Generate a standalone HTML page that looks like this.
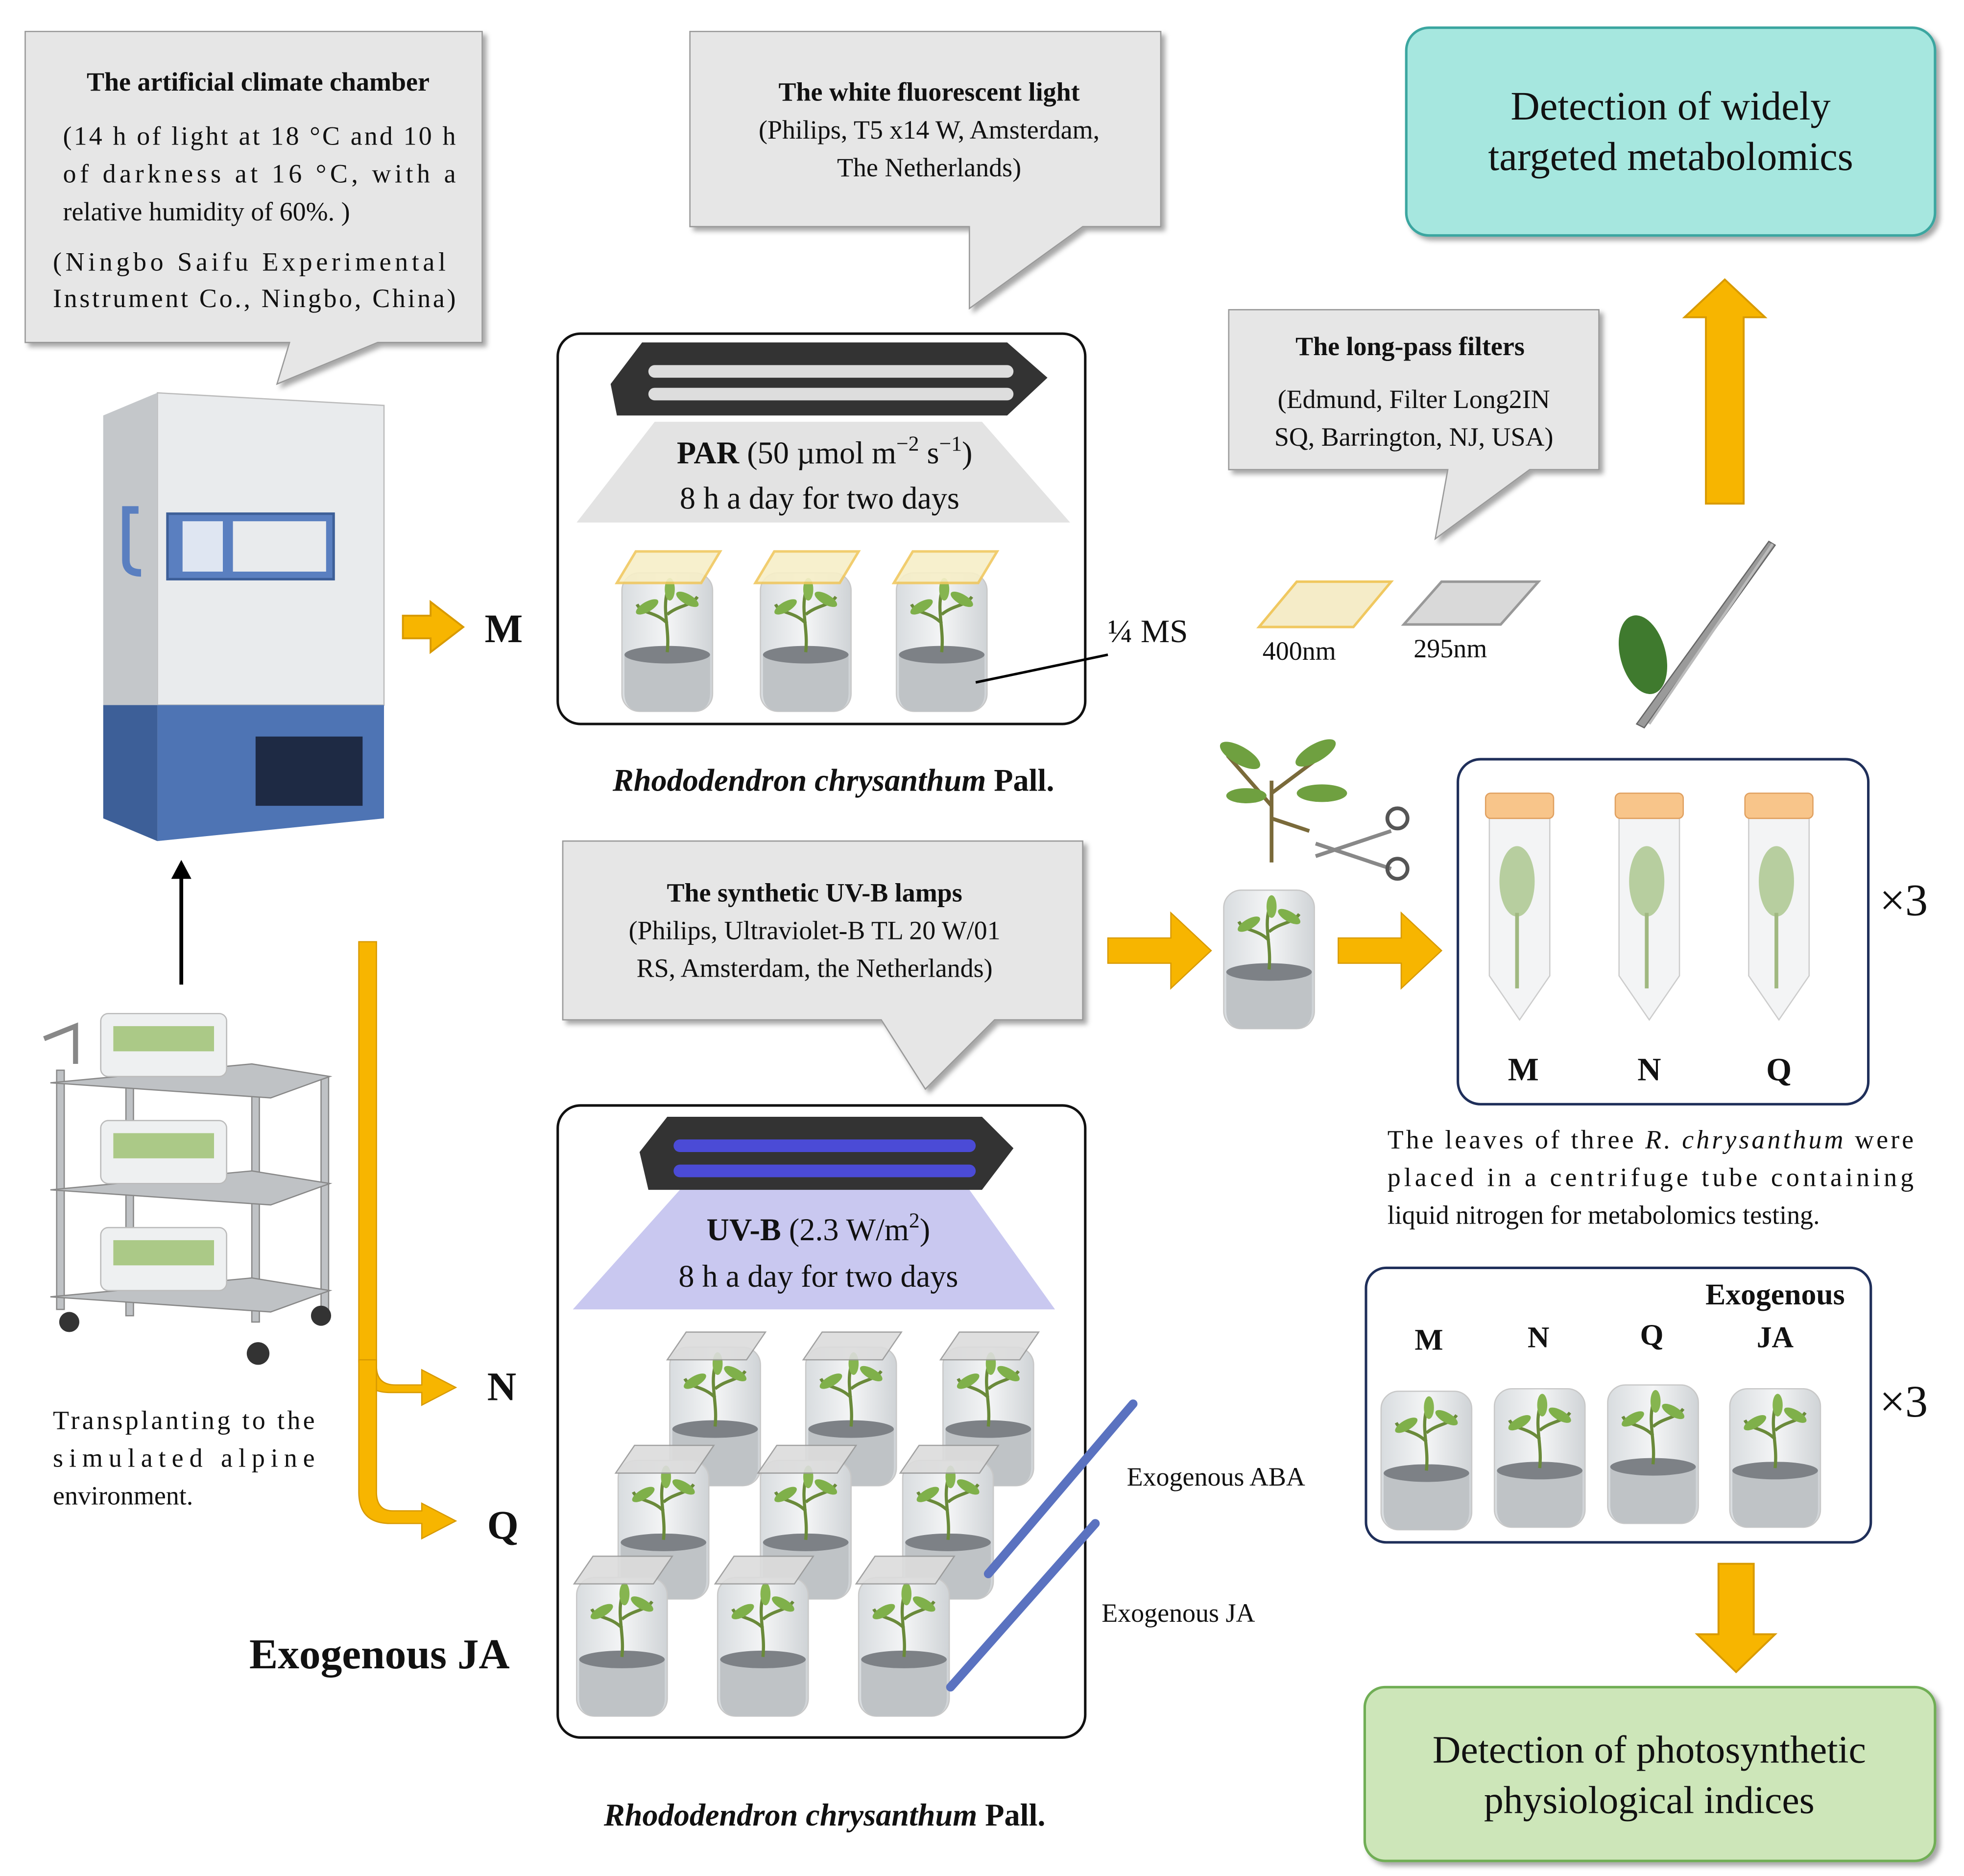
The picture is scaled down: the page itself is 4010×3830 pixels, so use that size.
<!DOCTYPE html>
<html><head><meta charset="utf-8"><style>
html,body{margin:0;padding:0;background:#fff}
svg{display:block}
text{font-family:"Liberation Serif","DejaVu Serif",serif;fill:#111}
</style></head><body>
<svg width="4010" height="3830" viewBox="0 0 1560 1490" xmlns="http://www.w3.org/2000/svg">
<defs>
<filter id="sh" x="-10%" y="-10%" width="130%" height="130%"><feDropShadow dx="3" dy="3" stdDeviation="2" flood-color="#000" flood-opacity="0.35"/></filter>
<linearGradient id="jar" x1="0" x2="1"><stop offset="0" stop-color="#d8dcdf"/><stop offset="0.5" stop-color="#f4f5f6"/><stop offset="1" stop-color="#cfd3d6"/></linearGradient>
<g id="jarg">
<rect x="-36" y="-55" width="72" height="110" rx="14" fill="url(#jar)" stroke="#c8c8c8"/>
<path d="M-34 10 Q0 4 34 10 L34 40 Q34 55 20 55 L-20 55 Q-34 55 -34 40Z" fill="#bfc3c6"/>
<ellipse cx="0" cy="10" rx="34" ry="7" fill="#7d8186"/>
<path d="M0 8 C2 -10 -4 -25 0 -40 M0 -15 C-10 -25 -20 -22 -24 -30 M0 -22 C10 -30 18 -28 24 -36" stroke="#6a8a3a" stroke-width="2.5" fill="none"/>
<ellipse cx="-16" cy="-28" rx="10" ry="4" fill="#7fb04a" transform="rotate(-30 -16 -28)"/>
<ellipse cx="16" cy="-34" rx="10" ry="4" fill="#7fb04a" transform="rotate(30 16 -34)"/>
<ellipse cx="2" cy="-42" rx="4" ry="9" fill="#86b550"/>
</g>
<g id="tube">
<path d="M-24 -70 L24 -70 L24 60 L0 95 L-24 60Z" fill="#f3f4f5" stroke="#ccc"/>
<rect x="-27" y="-85" width="54" height="20" rx="4" fill="#f8c58a" stroke="#e0a060"/>
<ellipse cx="-2" cy="-15" rx="14" ry="28" fill="#a8c48a" opacity="0.8"/>
<line x1="-2" y1="10" x2="-2" y2="70" stroke="#a0b880" stroke-width="3"/>
</g>
<g id="arr">
<path d="M0 -9 L22 -9 L22 -20 L48 0 L22 20 L22 9 L0 9Z" fill="#f7b500" stroke="#d89a00" stroke-width="1.5"/>
</g>
</defs>

<!-- Callout 1 -->
<path d="M20 25 L383 25 L383 272 L300 272 L220 305 L230 272 L20 272Z" fill="#e6e6e6" stroke="#999" filter="url(#sh)"/>
<text x="205" y="72" font-size="21" font-weight="bold" text-anchor="middle">The artificial climate chamber</text>
<text x="50" y="115" font-size="21" textLength="312" lengthAdjust="spacing">(14 h of light at 18 °C and 10 h</text>
<text x="50" y="145" font-size="21" textLength="312" lengthAdjust="spacing">of darkness at 16 °C, with a</text>
<text x="50" y="175" font-size="21">relative humidity of 60%. )</text>
<text x="42" y="215" font-size="21" textLength="312" lengthAdjust="spacing">(Ningbo Saifu Experimental</text>
<text x="42" y="244" font-size="21" textLength="320" lengthAdjust="spacing">Instrument Co., Ningbo, China)</text>

<!-- Callout 2 -->
<path d="M548 25 L922 25 L922 180 L860 180 L770 245 L770 180 L548 180Z" fill="#e6e6e6" stroke="#999" filter="url(#sh)"/>
<text x="738" y="80" font-size="21" font-weight="bold" text-anchor="middle">The white fluorescent light</text>
<text x="738" y="110" font-size="21" text-anchor="middle">(Philips, T5 x14 W, Amsterdam,</text>
<text x="738" y="140" font-size="21" text-anchor="middle">The Netherlands)</text>

<!-- Teal box -->
<rect x="1117" y="22" width="420" height="165" rx="18" fill="#a6e7df" stroke="#3aa6a0" stroke-width="2" filter="url(#sh)"/>
<text x="1327" y="95" font-size="32" text-anchor="middle">Detection of widely</text>
<text x="1327" y="135" font-size="32" text-anchor="middle">targeted metabolomics</text>

<!-- up arrow -->
<path d="M1355 400 L1355 252 L1338 252 L1370 222 L1402 252 L1385 252 L1385 400Z" fill="#f7b500" stroke="#d89a00" stroke-width="1.5"/>

<!-- long-pass callout -->
<path d="M976 246 L1270 246 L1270 373 L1215 373 L1140 428 L1150 373 L976 373Z" fill="#e6e6e6" stroke="#999" filter="url(#sh)"/>
<text x="1120" y="282" font-size="21" font-weight="bold" text-anchor="middle">The long-pass filters</text>
<text x="1123" y="324" font-size="21" text-anchor="middle">(Edmund, Filter Long2IN</text>
<text x="1123" y="354" font-size="21" text-anchor="middle">SQ, Barrington, NJ, USA)</text>

<!-- filters -->
<path d="M1000 498 L1030 462 L1105 462 L1075 498Z" fill="#f5ecc8" stroke="#f0c860" stroke-width="2"/>
<path d="M1115 496 L1145 462 L1222 462 L1192 496Z" fill="#d9d9d9" stroke="#999" stroke-width="2"/>
<text x="1032" y="524" font-size="21" text-anchor="middle">400nm</text>
<text x="1152" y="522" font-size="21" text-anchor="middle">295nm</text>

<!-- tweezers & leaf -->
<path d="M1300 575 L1405 430 L1410 433 L1306 578Z" fill="#9a9a9a" stroke="#666"/>
<path d="M1310 575 L1408 432" stroke="#bbb" stroke-width="2"/>
<ellipse cx="1305" cy="520" rx="18" ry="32" fill="#3f7a2e" transform="rotate(-15 1305 520)"/>

<!-- chamber -->
<path d="M82 330 L125 312 L305 322 L305 650 L125 668 L82 650Z" fill="#d5d8db"/>
<path d="M125 312 L305 322 L305 560 L125 560Z" fill="#e9ebed" stroke="#bbb"/>
<path d="M82 330 L125 312 L125 668 L82 650Z" fill="#c4c7ca"/>
<path d="M125 560 L305 560 L305 650 L125 668Z" fill="#4e74b4"/>
<path d="M82 560 L125 560 L125 668 L82 650Z" fill="#3d5f98"/>
<rect x="133" y="408" width="132" height="52" fill="#5a7fc0" stroke="#3d5f98" stroke-width="2"/>
<rect x="185" y="414" width="74" height="40" fill="#e9ebed"/>
<rect x="145" y="414" width="32" height="40" fill="#dfe6f2"/>
<path d="M110 405 L100 405 L100 445 Q100 455 112 455" stroke="#5a7fc0" stroke-width="6" fill="none"/>
<rect x="203" y="585" width="85" height="55" fill="#1e2a44"/>

<!-- up black arrow -->
<line x1="144" y1="782" x2="144" y2="695" stroke="#000" stroke-width="3"/>
<path d="M136 698 L144 683 L152 698Z" fill="#000"/>

<!-- cart -->
<g stroke="#888" fill="#bfc2c5">
<rect x="45" y="850" width="6" height="190"/><rect x="255" y="855" width="6" height="190"/>
<rect x="200" y="860" width="6" height="190"/><rect x="100" y="855" width="6" height="190"/>
<path d="M40 860 L200 845 L262 855 L215 872 Z"/>
<path d="M40 945 L200 930 L262 940 L215 957 Z"/>
<path d="M40 1030 L200 1015 L262 1025 L215 1042 Z"/>
<path d="M35 825 L60 815 L60 845" fill="none" stroke-width="4"/>
</g>
<circle cx="55" cy="1050" r="8" fill="#333"/><circle cx="205" cy="1075" r="9" fill="#333"/><circle cx="255" cy="1045" r="8" fill="#333"/>
<g fill="#eef0f1" stroke="#bbb">
<rect x="80" y="805" width="100" height="50" rx="6"/><rect x="80" y="890" width="100" height="50" rx="6"/><rect x="80" y="975" width="100" height="50" rx="6"/>
</g>
<g fill="#8fb85a" opacity="0.7"><rect x="90" y="815" width="80" height="20"/><rect x="90" y="900" width="80" height="20"/><rect x="90" y="985" width="80" height="20"/></g>
<text x="42" y="1135" font-size="21" textLength="208" lengthAdjust="spacing">Transplanting to the</text>
<text x="42" y="1165" font-size="21" textLength="208" lengthAdjust="spacing">simulated alpine</text>
<text x="42" y="1195" font-size="21">environment.</text>

<!-- orange arrows -->
<use href="#arr" x="320" y="498"/>
<text x="385" y="510" font-size="32" font-weight="bold">M</text>
<path d="M285 748 L299 748 L299 1085 Q299 1100 314 1100 L335 1100 L335 1088 L362 1102 L335 1116 L335 1106 L310 1106 Q285 1106 285 1080Z" fill="#f7b500" stroke="#d89a00"/>
<path d="M285 1080 L285 1185 Q285 1210 310 1210 L335 1210 L335 1222 L362 1208 L335 1194 L335 1200 L312 1200 Q299 1200 299 1185 L299 1080Z" fill="#f7b500" stroke="#d89a00"/>
<text x="387" y="1112" font-size="32" font-weight="bold">N</text>
<text x="387" y="1222" font-size="32" font-weight="bold">Q</text>
<text x="198" y="1325" font-size="34" font-weight="bold">Exogenous JA</text>

<!-- PAR box -->
<rect x="443" y="265" width="419" height="310" rx="18" fill="#fff" stroke="#111" stroke-width="2"/>
<path d="M520 335 L780 335 L850 415 L458 415Z" fill="#e3e3e3"/>
<path d="M485 305 L510 272 L800 272 L832 300 L800 330 L490 330Z" fill="#333"/>
<rect x="515" y="290" width="290" height="10" rx="5" fill="#ddd"/><rect x="515" y="308" width="290" height="10" rx="5" fill="#ddd"/>
<text x="655" y="368" font-size="25" text-anchor="middle"><tspan font-weight="bold">PAR</tspan> (50 µmol m<tspan dy="-10" font-size="17">−2</tspan><tspan dy="10"> s</tspan><tspan dy="-10" font-size="17">−1</tspan><tspan dy="10">)</tspan></text>
<text x="651" y="404" font-size="25" text-anchor="middle">8 h a day for two days</text>
<g><use href="#jarg" x="530" y="510"/><use href="#jarg" x="640" y="510"/><use href="#jarg" x="748" y="510"/></g>
<g fill="#f7efc8" stroke="#f0c860" stroke-width="2" opacity="0.9">
<path d="M490 463 L505 438 L572 438 L557 463Z"/><path d="M600 463 L615 438 L682 438 L667 463Z"/><path d="M710 463 L725 438 L792 438 L777 463Z"/></g>
<line x1="775" y1="542" x2="880" y2="520" stroke="#000" stroke-width="2"/>
<text x="880" y="510" font-size="26">¼ MS</text>
<text x="662" y="628" font-size="25" font-weight="bold" font-style="italic" text-anchor="middle">Rhododendron chrysanthum <tspan font-style="normal">Pall.</tspan></text>

<!-- UV-B callout -->
<path d="M447 668 L860 668 L860 810 L790 810 L735 865 L700 810 L447 810Z" fill="#e6e6e6" stroke="#999" filter="url(#sh)"/>
<text x="647" y="716" font-size="21" font-weight="bold" text-anchor="middle">The synthetic UV-B lamps</text>
<text x="647" y="746" font-size="21" text-anchor="middle">(Philips, Ultraviolet-B TL 20 W/01</text>
<text x="647" y="776" font-size="21" text-anchor="middle">RS, Amsterdam, the Netherlands)</text>

<!-- UV box -->
<rect x="443" y="878" width="419" height="502" rx="18" fill="#fff" stroke="#111" stroke-width="2"/>
<path d="M540 945 L770 945 L838 1040 L455 1040Z" fill="#c9c8f0"/>
<path d="M508 915 L530 887 L780 887 L805 912 L780 945 L515 945Z" fill="#333"/>
<rect x="535" y="905" width="240" height="10" rx="5" fill="#4b4bd6"/><rect x="535" y="925" width="240" height="10" rx="5" fill="#4b4bd6"/>
<text x="650" y="985" font-size="25" text-anchor="middle"><tspan font-weight="bold">UV-B</tspan> (2.3 W/m<tspan dy="-10" font-size="17">2</tspan><tspan dy="10">)</tspan></text>
<text x="650" y="1022" font-size="25" text-anchor="middle">8 h a day for two days</text>
<g>
<use href="#jarg" x="568" y="1125"/><use href="#jarg" x="676" y="1125"/><use href="#jarg" x="785" y="1125"/>
<use href="#jarg" x="527" y="1215"/><use href="#jarg" x="640" y="1215"/><use href="#jarg" x="753" y="1215"/>
<use href="#jarg" x="494" y="1308"/><use href="#jarg" x="606" y="1308"/><use href="#jarg" x="718" y="1308"/>
</g>
<g fill="#dcdcdc" stroke="#999" opacity="0.9">
<path d="M530 1080 L545 1058 L608 1058 L593 1080Z"/><path d="M638 1080 L653 1058 L716 1058 L701 1080Z"/><path d="M747 1080 L762 1058 L825 1058 L810 1080Z"/>
<path d="M489 1170 L504 1148 L567 1148 L552 1170Z"/><path d="M602 1170 L617 1148 L680 1148 L665 1170Z"/><path d="M715 1170 L730 1148 L793 1148 L778 1170Z"/>
<path d="M456 1258 L471 1236 L534 1236 L519 1258Z"/><path d="M568 1258 L583 1236 L646 1236 L631 1258Z"/><path d="M680 1258 L695 1236 L758 1236 L743 1258Z"/>
</g>
<!-- pipettes -->
<path d="M785 1250 L900 1115" stroke="#5a72c0" stroke-width="7" stroke-linecap="round"/>
<path d="M755 1340 L870 1210" stroke="#5a72c0" stroke-width="7" stroke-linecap="round"/>
<text x="895" y="1180" font-size="21">Exogenous ABA</text>
<text x="875" y="1288" font-size="21">Exogenous JA</text>
<text x="655" y="1450" font-size="25" font-weight="bold" font-style="italic" text-anchor="middle">Rhododendron chrysanthum <tspan font-style="normal">Pall.</tspan></text>

<!-- plant, scissors, jar -->
<path d="M1010 685 L1010 620 M1010 640 L975 600 M1010 630 L1050 600 M1010 650 L1040 660" stroke="#7a6a3a" stroke-width="3" fill="none"/>
<ellipse cx="985" cy="600" rx="18" ry="7" fill="#6fa040" transform="rotate(30 985 600)"/>
<ellipse cx="1045" cy="598" rx="18" ry="7" fill="#6fa040" transform="rotate(-30 1045 598)"/>
<ellipse cx="1050" cy="630" rx="20" ry="7" fill="#6fa040"/>
<ellipse cx="990" cy="632" rx="16" ry="6" fill="#6fa040"/>
<path d="M1045 680 L1105 660 M1045 670 L1105 690" stroke="#888" stroke-width="3"/>
<circle cx="1110" cy="650" r="8" fill="none" stroke="#555" stroke-width="3"/><circle cx="1110" cy="690" r="8" fill="none" stroke="#555" stroke-width="3"/>
<use href="#jarg" x="1008" y="762"/>
<path d="M880 745 L930 745 L930 725 L962 755 L930 785 L930 765 L880 765Z" fill="#f7b500" stroke="#d89a00"/>
<path d="M1063 745 L1113 745 L1113 725 L1145 755 L1113 785 L1113 765 L1063 765Z" fill="#f7b500" stroke="#d89a00"/>

<!-- tubes box -->
<rect x="1158" y="603" width="326" height="274" rx="18" fill="#fff" stroke="#1f2f5a" stroke-width="2"/>
<use href="#tube" x="1207" y="715"/><use href="#tube" x="1310" y="715"/><use href="#tube" x="1413" y="715"/>
<text x="1210" y="858" font-size="26" font-weight="bold" text-anchor="middle">M</text>
<text x="1310" y="858" font-size="26" font-weight="bold" text-anchor="middle">N</text>
<text x="1413" y="858" font-size="26" font-weight="bold" text-anchor="middle">Q</text>
<text x="1493" y="727" font-size="36">×3</text>
<text x="1102" y="912" font-size="21" textLength="418" lengthAdjust="spacing">The leaves of three <tspan font-style="italic">R. chrysanthum</tspan> were</text>
<text x="1102" y="942" font-size="21" textLength="418" lengthAdjust="spacing">placed in a centrifuge tube containing</text>
<text x="1102" y="972" font-size="21">liquid nitrogen for metabolomics testing.</text>

<!-- exogenous box -->
<rect x="1085" y="1007" width="401" height="218" rx="16" fill="#fff" stroke="#1f2f5a" stroke-width="2"/>
<text x="1410" y="1036" font-size="24" font-weight="bold" text-anchor="middle">Exogenous</text>
<text x="1135" y="1072" font-size="24" font-weight="bold" text-anchor="middle">M</text>
<text x="1222" y="1070" font-size="24" font-weight="bold" text-anchor="middle">N</text>
<text x="1312" y="1068" font-size="24" font-weight="bold" text-anchor="middle">Q</text>
<text x="1410" y="1070" font-size="24" font-weight="bold" text-anchor="middle">JA</text>
<use href="#jarg" x="1133" y="1160"/><use href="#jarg" x="1223" y="1158"/><use href="#jarg" x="1313" y="1155"/><use href="#jarg" x="1410" y="1158"/>
<text x="1493" y="1125" font-size="36">×3</text>

<!-- down arrow -->
<path d="M1365 1242 L1393 1242 L1393 1298 L1410 1298 L1379 1328 L1348 1298 L1365 1298Z" fill="#f7b500" stroke="#d89a00" stroke-width="1.5"/>

<!-- green box -->
<rect x="1084" y="1340" width="453" height="138" rx="16" fill="#cde6b9" stroke="#6fae55" stroke-width="2" filter="url(#sh)"/>
<text x="1310" y="1400" font-size="31" text-anchor="middle">Detection of photosynthetic</text>
<text x="1310" y="1440" font-size="31" text-anchor="middle">physiological indices</text>
</svg>
</body></html>
